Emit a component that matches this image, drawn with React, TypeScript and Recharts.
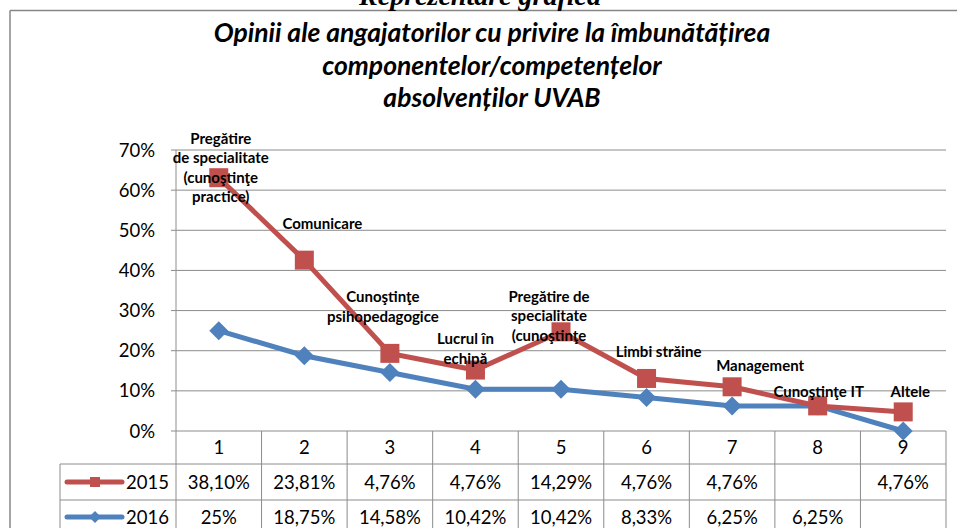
import React from 'react';
import { ComposedChart, Area, XAxis, YAxis, CartesianGrid } from 'recharts';

const categories = ['1', '2', '3', '4', '5', '6', '7', '8', '9'];
const pointLabels: string[][] = [
  ['Pregătire', 'de specialitate', '(cunoştinţe', 'practice)'],
  ['Comunicare'],
  ['Cunoştinţe', 'psihopedagogice'],
  ['Lucrul în', 'echipă'],
  ['Pregătire de', 'specialitate', '(cunoştinţe'],
  ['Limbi străine'],
  ['Management'],
  ['Cunoştinţe IT'],
  ['Altele'],
];
const values2015: (number | null)[] = [38.1, 23.81, 4.76, 4.76, 14.29, 4.76, 4.76, null, 4.76];
const values2016: (number | null)[] = [25, 18.75, 14.58, 10.42, 10.42, 8.33, 6.25, 6.25, null];
const table2015 = ['38,10%', '23,81%', '4,76%', '4,76%', '14,29%', '4,76%', '4,76%', '', '4,76%'];
const table2016 = ['25%', '18,75%', '14,58%', '10,42%', '10,42%', '8,33%', '6,25%', '6,25%', ''];
const yTicks = [0, 10, 20, 30, 40, 50, 60, 70];
const titleLines = [
  'Opinii ale angajatorilor cu privire la îmbunătățirea',
  'componentelor/competențelor',
  'absolvenților UVAB',
];
const pageTitle = 'Reprezentare grafică';

// label offsets relative to marker (styling only)
const labelOffsets: [number, number][] = [
  [2, -40], [18, -37], [-7, -57], [-10, -32], [-12, -36], [12, -27], [28, -22], [1, -15], [7, -21],
];

const W = 957;
const H = 528;
const PL = 176;
const PR = 946;
const PT = 150;
const PB = 431;
const RED = '#C0504D';
const BLUE = '#4F81BD';
const GRID = '#8c8c8c';
const FONT = 'Lato, "Open Sans", sans-serif';
const FS = 18.5;

const data = categories.map((c, i) => ({
  cat: c,
  v2016: values2016[i] ?? 0,
  v2015: values2015[i] ?? 0,
}));

const SquareDot = (props: any) => {
  const { cx, cy, index } = props;
  if (cx == null || cy == null) return <g key={`s${index}`} />;
  const lines = pointLabels[index] || [];
  const [dx, dy] = labelOffsets[index] || [0, -20];
  return (
    <g key={`s${index}`}>
      <rect x={cx - 9.5} y={cy - 9.5} width={19} height={19} fill={RED} />
      {lines.map((t, k) => (
        <text
          key={k}
          x={cx + dx}
          y={cy + dy + k * 19.5}
          textAnchor="middle"
          dominantBaseline="central"
          fontFamily={FONT}
          fontWeight={700}
          fontSize={15}
          fill="#000"
        >
          {t}
        </text>
      ))}
    </g>
  );
};

const DiamondDot = (props: any) => {
  const { cx, cy, index } = props;
  if (cx == null || cy == null) return <g key={`d${index}`} />;
  return (
    <polygon
      key={`d${index}`}
      points={`${cx},${cy - 9.5} ${cx + 9.5},${cy} ${cx},${cy + 9.5} ${cx - 9.5},${cy}`}
      fill={BLUE}
    />
  );
};

const XTick = (props: any) => {
  const { x, payload } = props;
  return (
    <text x={x} y={447} textAnchor="middle" dominantBaseline="central" fontFamily={FONT} fontSize={FS} fill="#000">
      {payload.value}
    </text>
  );
};

export default function App() {
  const bw = (PR - PL) / categories.length;
  const rowY = [464, 500];
  return (
    <div style={{ position: 'absolute', left: 0, top: 0, width: W, height: H, overflow: 'hidden', background: '#fff' }}>
      <ComposedChart
        width={W}
        height={H}
        data={data}
        margin={{ top: PT, right: W - PR, bottom: H - PB - 33, left: 0 }}
      >
        <CartesianGrid horizontal vertical={false} stroke={GRID} strokeWidth={1} />
        <XAxis dataKey="cat" scale="band" height={33} axisLine={false} tickLine={false} tick={<XTick />} interval={0} />
        <YAxis
          width={PL}
          domain={[0, 70]}
          ticks={yTicks}
          interval={0}
          tickFormatter={(v: number) => `${v}%`}
          axisLine={{ stroke: GRID }}
          tickLine={{ stroke: GRID }}
          tickSize={5}
          tickMargin={16}
          tick={{ fontFamily: FONT, fontSize: FS, fill: '#000' }}
        />
        <Area
          type="linear"
          dataKey="v2016"
          stackId="a"
          stroke={BLUE}
          strokeWidth={5}
          fill="none"
          fillOpacity={0}
          dot={DiamondDot}
          activeDot={false}
          isAnimationActive={false}
        />
        <Area
          type="linear"
          dataKey="v2015"
          stackId="a"
          stroke={RED}
          strokeWidth={5}
          fill="none"
          fillOpacity={0}
          dot={SquareDot}
          activeDot={false}
          isAnimationActive={false}
        />
      </ComposedChart>
      <svg width={W} height={H} style={{ position: 'absolute', left: 0, top: 0, pointerEvents: 'none' }}>
        <line x1={10} y1={10.5} x2={W} y2={10.5} stroke="#868686" strokeWidth={1.5} />
        <line x1={10} y1={10.5} x2={10} y2={H} stroke="#868686" strokeWidth={1.5} />
        <text x={480} y={5} textAnchor="middle" fontFamily='"Liberation Serif", "Times New Roman", serif' fontWeight={700} fontStyle="italic" fontSize={28} fill="#000">
          {pageTitle}
        </text>
        {titleLines.map((t, i) => (
          <text key={i} x={492} y={32 + i * 32.5} textAnchor="middle" dominantBaseline="central" fontFamily={FONT} fontWeight={700} fontStyle="italic" fontSize={26.5} fill="#000">
            {t}
          </text>
        ))}
        {/* table grid */}
        <line x1={PL} y1={PB} x2={PL} y2={H} stroke={GRID} strokeWidth={1} />
        {categories.map((_, k) => (
          <line key={k} x1={PL + (k + 1) * bw} y1={PB} x2={PL + (k + 1) * bw} y2={H} stroke={GRID} strokeWidth={1} />
        ))}
        <line x1={60} y1={rowY[0]} x2={60} y2={H} stroke={GRID} strokeWidth={1} />
        <line x1={60} y1={rowY[0]} x2={PR} y2={rowY[0]} stroke={GRID} strokeWidth={1} />
        <line x1={60} y1={rowY[1]} x2={PR} y2={rowY[1]} stroke={GRID} strokeWidth={1} />
        {/* legend keys */}
        <line x1={67} y1={482} x2={122} y2={482} stroke={RED} strokeWidth={5} strokeLinecap="round" />
        <rect x={90} y={477} width={10} height={10} fill={RED} />
        <text x={126} y={482} dominantBaseline="central" fontFamily={FONT} fontSize={FS} fill="#000">2015</text>
        <line x1={67} y1={517} x2={122} y2={517} stroke={BLUE} strokeWidth={5} strokeLinecap="round" />
        <polygon points="95,511 101,517 95,523 89,517" fill={BLUE} />
        <text x={126} y={517} dominantBaseline="central" fontFamily={FONT} fontSize={FS} fill="#000">2016</text>
        {categories.map((_, k) => (
          <g key={`v${k}`}>
            <text x={PL + (k + 0.5) * bw} y={482} textAnchor="middle" dominantBaseline="central" fontFamily={FONT} fontSize={FS} fill="#000">
              {table2015[k]}
            </text>
            <text x={PL + (k + 0.5) * bw} y={517} textAnchor="middle" dominantBaseline="central" fontFamily={FONT} fontSize={FS} fill="#000">
              {table2016[k]}
            </text>
          </g>
        ))}
      </svg>
    </div>
  );
}
